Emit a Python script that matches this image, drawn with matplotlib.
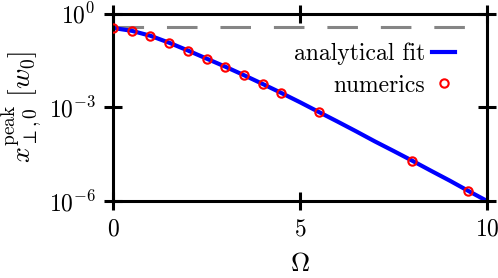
import matplotlib
matplotlib.use("Agg")
import matplotlib.pyplot as plt
from matplotlib.ticker import NullLocator

# numerics (open red circles)
omega_num = [0, 0.5, 1.0, 1.5, 2.0, 2.5, 3.0, 3.5, 4.0, 4.5, 5.5, 8.0, 9.5]
peak_num = [0.34, 0.275, 0.19, 0.115, 0.065, 0.036, 0.020, 0.0105, 0.0055,
            0.0028, 6.9e-4, 1.9e-5, 2.1e-6]

# analytical fit (blue line)
omega_fit = [0, 0.5, 1.0, 1.5, 2.0, 2.5, 3.0, 3.5, 4.0, 4.5, 5.0,
             5.5, 6.0, 6.5, 7.0, 7.5, 8.0, 8.5, 9.0, 9.5, 10.0]
peak_fit = [0.347, 0.282, 0.195, 0.117, 0.066, 0.0363, 0.0200, 0.0107,
            0.0056, 0.00288, 0.00145, 7.1e-4, 3.5e-4, 1.7e-4, 8.1e-5,
            4.0e-5, 1.95e-5, 9.3e-6, 4.5e-6, 2.1e-6, 1.0e-6]

# reference level (gray dashed)
ref_level = 0.38

plt.rcParams["font.family"] = "serif"
plt.rcParams["font.serif"] = ["cmr10"]
plt.rcParams["mathtext.fontset"] = "cm"
plt.rcParams["axes.formatter.use_mathtext"] = True

fig = plt.figure(figsize=(4.98, 2.78), dpi=100)
ax = fig.add_axes([0.227, 0.277, 0.751, 0.674])

ax.axhline(ref_level, color="#858585", lw=2.2, ls=(0, (10, 7.5)), zorder=1)
ax.plot(omega_fit, peak_fit, color="#0000ff", lw=3, label="analytical fit", zorder=2)
ax.plot(omega_num, peak_num, ls="none", marker="o", ms=6, mfc="none",
        mec="#ff0000", mew=1.5, label="numerics", zorder=3)

ax.set_yscale("log")
ax.set_xlim(0, 10)
ax.set_ylim(1e-6, 1)
ax.set_xticks([0, 5, 10])
ax.set_yticks([1e-6, 1e-3, 1])
ax.yaxis.set_minor_locator(NullLocator())

for s in ax.spines.values():
    s.set_linewidth(2.2)
ax.tick_params(which="major", direction="inout", length=13, width=2.2,
               top=True, right=True, labelsize=17, pad=6)

ax.set_xlabel(r"$\Omega$", fontsize=19)
ax.set_ylabel(r"$x_{\perp,0}^{\mathrm{peak}}\ [w_0]$", fontsize=20)
ax.yaxis.set_label_coords(-0.185, 0.5)
ax.xaxis.set_label_coords(0.5, -0.275)

ax.legend(loc="upper right", bbox_to_anchor=(0.914, 0.845), frameon=False,
          markerfirst=False, numpoints=1, handlelength=0.95, handletextpad=0.3,
          labelspacing=0.4, borderpad=0, borderaxespad=0, fontsize=17)

fig.savefig("out.png", dpi=100)
